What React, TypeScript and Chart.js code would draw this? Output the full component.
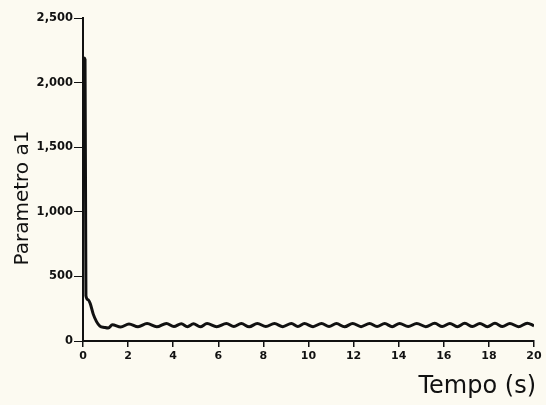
import React, { useEffect, useRef } from "react";
import { Chart, registerables } from "chart.js";

Chart.register(...registerables);

const timeSeconds = [
  0.04, 0.09, 0.13, 0.22, 0.32, 0.45, 0.6, 0.75, 0.95, 1.12,
  1.3, 1.67, 2.04, 2.44, 2.84, 3.27, 3.7, 4.03, 4.36, 4.63, 4.9, 5.2,
  5.5, 5.93, 6.36, 6.69, 7.02, 7.37, 7.73, 8.11, 8.49, 8.86, 9.24, 9.53,
  9.82, 10.2, 10.58, 10.91, 11.24, 11.6, 11.96, 12.33, 12.71, 13.04, 13.38, 13.71,
  14.04, 14.42, 14.8, 15.2, 15.6, 15.93, 16.27, 16.6, 16.93, 17.27, 17.6, 17.93,
  18.27, 18.6, 18.93, 19.31, 19.7, 20,
];

const parametroA1 = [
  2190, 2180, 350, 320, 290, 210, 150, 115, 105, 100,
  125, 108, 132, 110, 135, 110, 136, 112, 134, 111, 133, 110,
  135, 111, 136, 112, 135, 110, 136, 112, 135, 111, 136, 112,
  135, 111, 136, 112, 135, 110, 136, 111, 136, 112, 135, 111,
  136, 112, 136, 111, 137, 112, 136, 111, 137, 112, 136, 111,
  137, 112, 136, 111, 138, 118,
];

const yTickValues = [0, 500, 1000, 1500, 2000, 2500];
const xTickValues = [0, 2, 4, 6, 8, 10, 12, 14, 16, 18, 20];
const xTitle = "Tempo (s)";
const yTitle = "Parametro a1";

const titlesPlugin = {
  id: "titles",
  afterDraw(chart: any) {
    const ctx = chart.ctx;
    ctx.save();
    ctx.fillStyle = "#111";
    ctx.font = '24px "DejaVu Sans"';
    ctx.textAlign = "right";
    ctx.textBaseline = "alphabetic";
    ctx.fillText(xTitle, 536, 393);
    ctx.translate(28, 198);
    ctx.rotate(-Math.PI / 2);
    ctx.textAlign = "center";
    ctx.font = '20px "DejaVu Sans"';
    ctx.fillText(yTitle, 0, 0);
    ctx.restore();
  },
};

const bgPlugin = {
  id: "bg",
  beforeDraw(chart: any) {
    const ctx = chart.ctx;
    ctx.save();
    ctx.fillStyle = "#fcfaf1";
    ctx.fillRect(0, 0, chart.width, chart.height);
    ctx.restore();
  },
};

export default function App() {
  const ref = useRef<HTMLCanvasElement>(null);
  useEffect(() => {
    document.body.style.margin = "0";
    const chart = new Chart(ref.current!, {
      type: "line",
      data: {
        datasets: [
          {
            data: timeSeconds.map((t, i) => ({ x: t, y: parametroA1[i] })),
            borderColor: "#111",
            borderWidth: 3,
            pointRadius: 0,
            cubicInterpolationMode: "monotone",
            fill: false,
          },
        ],
      },
      options: {
        animation: false,
        responsive: false,
        layout: { padding: { top: 18, right: 12, left: 0, bottom: 0 } },
        plugins: { legend: { display: false }, tooltip: { enabled: false } },
        scales: {
          x: {
            type: "linear",
            min: 0,
            max: 20,
            afterBuildTicks(scale: any) {
              scale.ticks = xTickValues.map((v) => ({ value: v }));
            },
            afterFit(scale: any) {
              scale.height = 64;
            },
            grid: { display: true, drawOnChartArea: false, tickLength: 6, color: "#111", lineWidth: 1.5 },
            border: { display: true, color: "#111", width: 2 },
            ticks: {
              color: "#111",
              font: { family: '"DejaVu Sans"', size: 11, weight: "bold" },
              padding: 3,
              maxRotation: 0,
              callback: (v: any) => String(v),
            },
          },
          y: {
            min: 0,
            max: 2500,
            afterBuildTicks(scale: any) {
              scale.ticks = yTickValues.map((v) => ({ value: v }));
            },
            afterFit(scale: any) {
              scale.width = 83;
            },
            grid: { display: true, drawOnChartArea: false, tickLength: 9, color: "#111", lineWidth: 1 },
            border: { display: true, color: "#111", width: 2 },
            ticks: {
              color: "#111",
              font: { family: '"DejaVu Sans"', size: 11.5, weight: "bold" },
              padding: 1,
              callback: (v: any) => Number(v).toLocaleString("en-US"),
            },
          },
        },
      },
      plugins: [bgPlugin, titlesPlugin],
    });
    return () => chart.destroy();
  }, []);
  return <canvas ref={ref} width={546} height={405} style={{ display: "block" }} />;
}
